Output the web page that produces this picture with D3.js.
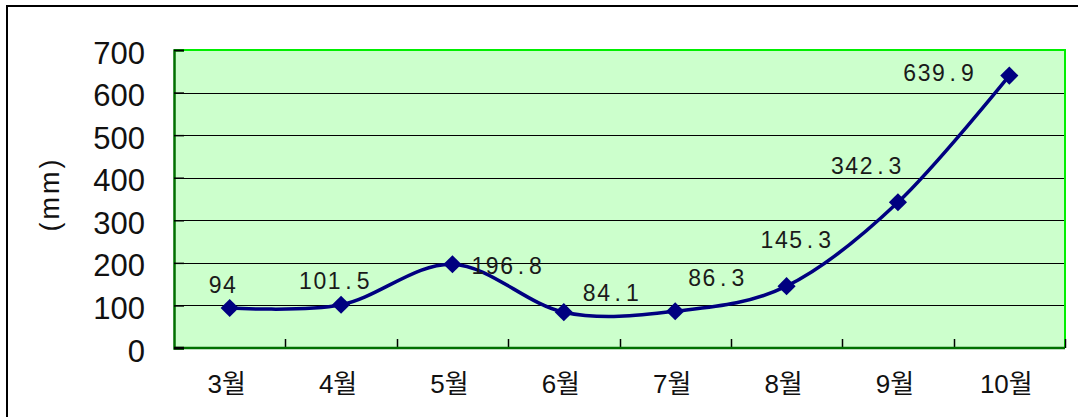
<!DOCTYPE html>
<html>
<head>
<meta charset="utf-8">
<script src="https://cdnjs.cloudflare.com/ajax/libs/d3/7.8.5/d3.min.js"></script>
<style>
  body { margin: 0; background: #fff; }
  svg { display: block; }
</style>
</head>
<body>
<div id="chart"></div>
<script>
// data
var months = ["3월", "4월", "5월", "6월", "7월", "8월", "9월", "10월"];
var rainfall = [94, 101.5, 196.8, 84.1, 86.3, 145.3, 342.3, 639.9];
var valueLabels = ["94", "101.5", "196.8", "84.1", "86.3", "145.3", "342.3", "639.9"];
var yTicks = [0, 100, 200, 300, 400, 500, 600, 700];

// where each value label sits relative to its marker
var labelDx = [-21, -42, 19, 19, 13, -26, -67, -106];
var labelDy = [-15, -16, 10, -11, -25, -38, -28, 5];

var W = 1078, H = 417;
var plotL = 174, plotR = 1065, plotT = 50, plotB = 348;
var pitch = 14.4; // fixed character step of the value labels

var svg = d3.select("#chart")
    .append("svg")
    .attr("width", W)
    .attr("height", H);

// outer frame, runs off the right and bottom edges
svg.append("rect")
    .attr("x", 7)
    .attr("y", 6)
    .attr("width", W + 20)
    .attr("height", H + 20)
    .attr("fill", "#fff")
    .attr("stroke", "#000")
    .attr("stroke-width", 2);

const x = d3.scaleBand()
    .domain(months)
    .range([plotL, plotR])
    .padding(0);

const y = d3.scaleLinear()
    .domain([0, 700])
    .range([plotB, plotT]);

// plot area
svg.append("rect")
    .attr("x", plotL)
    .attr("y", plotT)
    .attr("width", plotR - plotL)
    .attr("height", plotB - plotT)
    .attr("fill", "#ccffcc");

// grid lines
svg.append("g")
    .selectAll("line")
    .data(yTicks.filter(d => d > 0 && d < 700))
    .enter().append("line")
    .attr("x1", plotL)
    .attr("x2", plotR)
    .attr("y1", d => Math.round(y(d)) + 0.5)
    .attr("y2", d => Math.round(y(d)) + 0.5)
    .attr("stroke", "#000")
    .attr("stroke-width", 1);

// top and right border, bright green
svg.append("path")
    .attr("d", "M" + plotL + "," + plotT + "H" + plotR + "V" + plotB)
    .attr("fill", "none")
    .attr("stroke", "#00ee00")
    .attr("stroke-width", 2);

// y axis
var yAxis = svg.append("g")
    .attr("transform", "translate(" + plotL + ",0)")
    .call(d3.axisLeft(y).tickValues(yTicks).tickSize(-10).tickPadding(29).tickFormat(d3.format("d")));
yAxis.select(".domain").attr("stroke", "#007000").attr("stroke-width", 2.5);
yAxis.selectAll(".tick line").attr("stroke", "#000").attr("stroke-width", 1.5);
yAxis.selectAll(".tick text")
    .attr("dy", "0.42em")
    .style("font-family", "'Liberation Sans', Arial, sans-serif")
    .style("font-size", "31px")
    .attr("fill", "#111");

// x axis labels
var xAxis = svg.append("g")
    .attr("transform", "translate(-3," + plotB + ")")
    .call(d3.axisBottom(x).tickSize(0).tickPadding(27));
xAxis.select(".domain").remove();
xAxis.selectAll(".tick text")
    .style("font-family", "'Liberation Sans', 'Noto Sans CJK KR', sans-serif")
    .style("font-size", "26px")
    .attr("fill", "#111");

// x ticks on category boundaries
svg.append("g")
    .selectAll("line")
    .data(months.slice(1).map(m => x(m)).concat([x.range()[1]]))
    .enter().append("line")
    .attr("x1", d => Math.round(d) + 0.5)
    .attr("x2", d => Math.round(d) + 0.5)
    .attr("y1", plotB)
    .attr("y2", plotB - 9)
    .attr("stroke", "#000")
    .attr("stroke-width", 1.5);

// x axis line
svg.append("line")
    .attr("x1", plotL)
    .attr("x2", plotR)
    .attr("y1", plotB)
    .attr("y2", plotB)
    .attr("stroke", "#007000")
    .attr("stroke-width", 2.5);
svg.append("line")
    .attr("x1", plotL)
    .attr("x2", plotL + 10)
    .attr("y1", plotB)
    .attr("y2", plotB)
    .attr("stroke", "#000")
    .attr("stroke-width", 2.5);

// y title
svg.append("text")
    .attr("transform", "translate(50,194) rotate(-90)")
    .attr("text-anchor", "middle")
    .attr("dominant-baseline", "central")
    .style("font-family", "'Liberation Sans', Arial, sans-serif")
    .style("font-size", "27px")
    .style("letter-spacing", "3px")
    .attr("fill", "#111")
    .text("(mm)");

// the smoothed line
var cx = (d, i) => x(months[i]) + x.bandwidth() / 2;
var line = d3.line()
    .x(cx)
    .y(d => y(d))
    .curve(d3.curveCardinal.tension(0));

svg.append("path")
    .datum(rainfall)
    .attr("d", line)
    .attr("fill", "none")
    .attr("stroke", "#000080")
    .attr("stroke-width", 3.5);

// diamond markers
svg.append("g")
    .selectAll("path")
    .data(rainfall)
    .enter().append("path")
    .attr("d", d3.symbol().type(d3.symbolSquare).size(165))
    .attr("transform", (d, i) => "translate(" + cx(d, i) + "," + y(d) + ") rotate(45)")
    .attr("fill", "#000080");

// value labels, one character per step like the original fixed-pitch font
var labels = svg.append("g")
    .selectAll("text")
    .data(rainfall)
    .enter().append("text")
    .attr("y", (d, i) => y(d) + labelDy[i])
    .style("font-family", "'Liberation Sans', Arial, sans-serif")
    .style("font-size", "23px")
    .attr("fill", "#1a1a1a");

labels.each(function (d, i) {
    var x0 = cx(d, i) + labelDx[i];
    d3.select(this).selectAll("tspan")
        .data(valueLabels[i].split(""))
        .enter().append("tspan")
        .attr("x", (c, j) => x0 + j * pitch + (c === "." ? 3 : 0))
        .text(c => c);
});
</script>
</body>
</html>
